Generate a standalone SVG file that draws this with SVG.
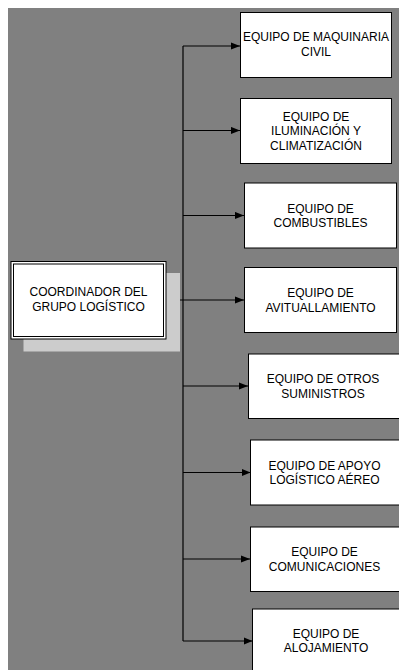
<svg xmlns="http://www.w3.org/2000/svg" width="399" height="670" viewBox="0 0 399 670">
<style>
.box{fill:#fff;stroke:#000;stroke-width:1}
.t{font-family:"Liberation Sans",Arial,sans-serif;font-size:12px;fill:#000;text-anchor:middle}
.c{stroke:#000;stroke-width:1.2;fill:none}
</style>
<defs>
<marker id="arr" viewBox="0 0 10 8" refX="10" refY="4" markerWidth="9" markerHeight="8" markerUnits="userSpaceOnUse" orient="auto">
<path d="M0,0 L10,4 L0,8 z" fill="#000"/>
</marker>
</defs>
<rect x="0" y="0" width="399" height="670" fill="#fff"/>
<rect x="8" y="8" width="391" height="662" fill="#808080"/>
<g id="connectors">
<line class="c" x1="183" y1="46" x2="183" y2="641" stroke-width="1.6"/>
<line class="c" x1="166" y1="300" x2="244" y2="300" marker-end="url(#arr)" stroke-width="1.6"/>
<line class="c" x1="183" y1="46" x2="240" y2="46" marker-end="url(#arr)"/>
<line class="c" x1="183" y1="130.5" x2="240" y2="130.5" marker-end="url(#arr)"/>
<line class="c" x1="183" y1="215.5" x2="244" y2="215.5" marker-end="url(#arr)"/>
<line class="c" x1="183" y1="386" x2="248" y2="386" marker-end="url(#arr)"/>
<line class="c" x1="183" y1="472.5" x2="250.5" y2="472.5" marker-end="url(#arr)"/>
<line class="c" x1="183" y1="559" x2="250" y2="559" marker-end="url(#arr)"/>
<line class="c" x1="183" y1="641" x2="252.5" y2="641" marker-end="url(#arr)"/>
</g>
<g id="coordinador">
<rect x="23.5" y="273" width="156.5" height="78.5" fill="#cccccc"/>
<rect class="box" x="11" y="261.5" width="155" height="77.5"/>
<rect x="13.5" y="264" width="150" height="72.5" fill="none" stroke="#000" stroke-width="1"/>
<text class="t" x="88.5" y="296">COORDINADOR DEL</text>
<text class="t" x="88.5" y="310.5">GRUPO LOGÍSTICO</text>
</g>
<g id="maquinaria">
<rect class="box" x="240.5" y="12.5" width="151" height="65"/>
<text class="t" x="316" y="40.5">EQUIPO DE MAQUINARIA</text>
<text class="t" x="316" y="56">CIVIL</text>
</g>
<g id="iluminacion">
<rect class="box" x="240.5" y="98.5" width="151" height="65"/>
<text class="t" x="316" y="120.5">EQUIPO DE</text>
<text class="t" x="316" y="135">ILUMINACIÓN Y</text>
<text class="t" x="316" y="149.5">CLIMATIZACIÓN</text>
</g>
<g id="combustibles">
<rect class="box" x="244.5" y="183" width="152" height="65"/>
<text class="t" x="320.5" y="212.5">EQUIPO DE</text>
<text class="t" x="320.5" y="227">COMBUSTIBLES</text>
</g>
<g id="avituallamiento">
<rect class="box" x="244.5" y="267.5" width="152" height="65"/>
<text class="t" x="320.5" y="297">EQUIPO DE</text>
<text class="t" x="320.5" y="311.5">AVITUALLAMIENTO</text>
</g>
<g id="otros">
<rect class="box" x="248.5" y="354" width="152" height="64.5"/>
<text class="t" x="323" y="383">EQUIPO DE OTROS</text>
<text class="t" x="323" y="397.5">SUMINISTROS</text>
</g>
<g id="apoyo">
<rect class="box" x="250.5" y="440" width="150" height="65"/>
<text class="t" x="324.5" y="469.5">EQUIPO DE APOYO</text>
<text class="t" x="324.5" y="484">LOGÍSTICO AÉREO</text>
</g>
<g id="comunicaciones">
<rect class="box" x="250.5" y="527" width="150" height="64.5"/>
<text class="t" x="324.5" y="556">EQUIPO DE</text>
<text class="t" x="324.5" y="570.5">COMUNICACIONES</text>
</g>
<g id="alojamiento">
<rect class="box" x="252.5" y="609" width="148" height="66"/>
<text class="t" x="326" y="638">EQUIPO DE</text>
<text class="t" x="326" y="652">ALOJAMIENTO</text>
</g>
</svg>
